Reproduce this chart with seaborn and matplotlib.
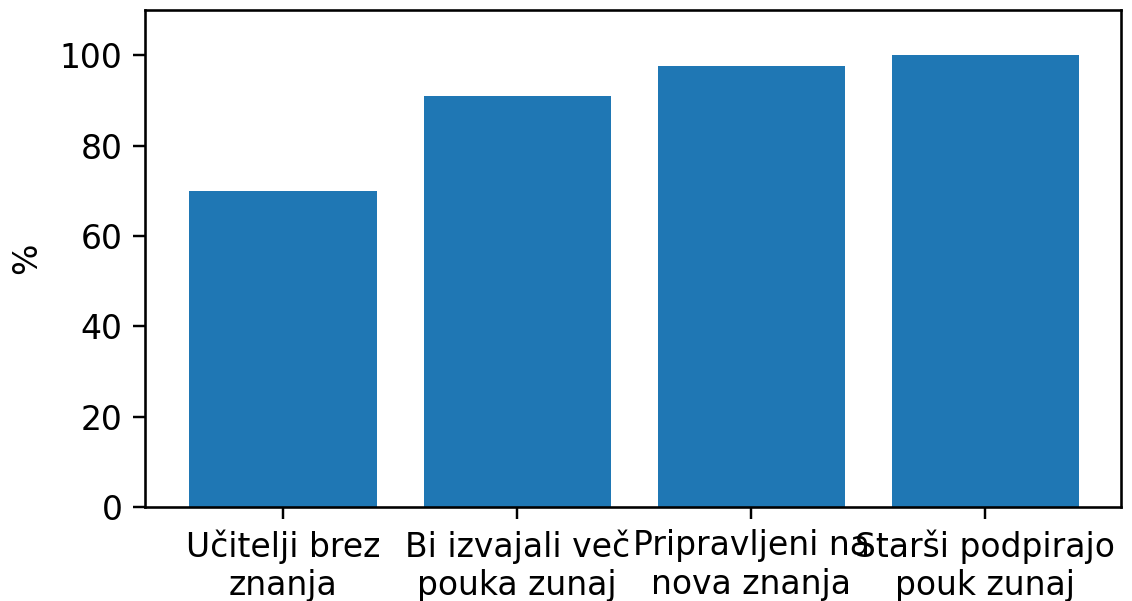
import matplotlib
matplotlib.use("Agg")
import matplotlib.pyplot as plt
import seaborn as sns
import pandas as pd

# values
categories = ["Učitelji brez\nznanja", "Bi izvajali več\npouka zunaj",
              "Pripravljeni na\nnova znanja", "Starši podpirajo\npouk zunaj"]
percent = [70.0, 90.9, 97.7, 100.0]

df = pd.DataFrame({"category": categories, "percent": percent})

plt.rcParams["font.size"] = 10.8
plt.rcParams["xtick.major.size"] = 3.8
plt.rcParams["ytick.major.size"] = 3.8
plt.rcParams["axes.linewidth"] = 0.85

fig = plt.figure(figsize=(1132 / 220, 601 / 220), dpi=220)
ax = fig.add_axes([145 / 1132, 1 - 507 / 601, (1121 - 145) / 1132, (507 - 10) / 601])

sns.barplot(data=df, x="category", y="percent", color="#1f77b4",
            saturation=1, width=0.8, ax=ax)

ax.set_xlim(-0.59, 3.58)
ax.set_ylim(0, 110)
ax.set_yticks([0, 20, 40, 60, 80, 100])
ax.set_xlabel("")
ax.set_ylabel("%")
ax.yaxis.set_label_coords(-0.104, 0.5)

fig.savefig("out.png", dpi=220)
